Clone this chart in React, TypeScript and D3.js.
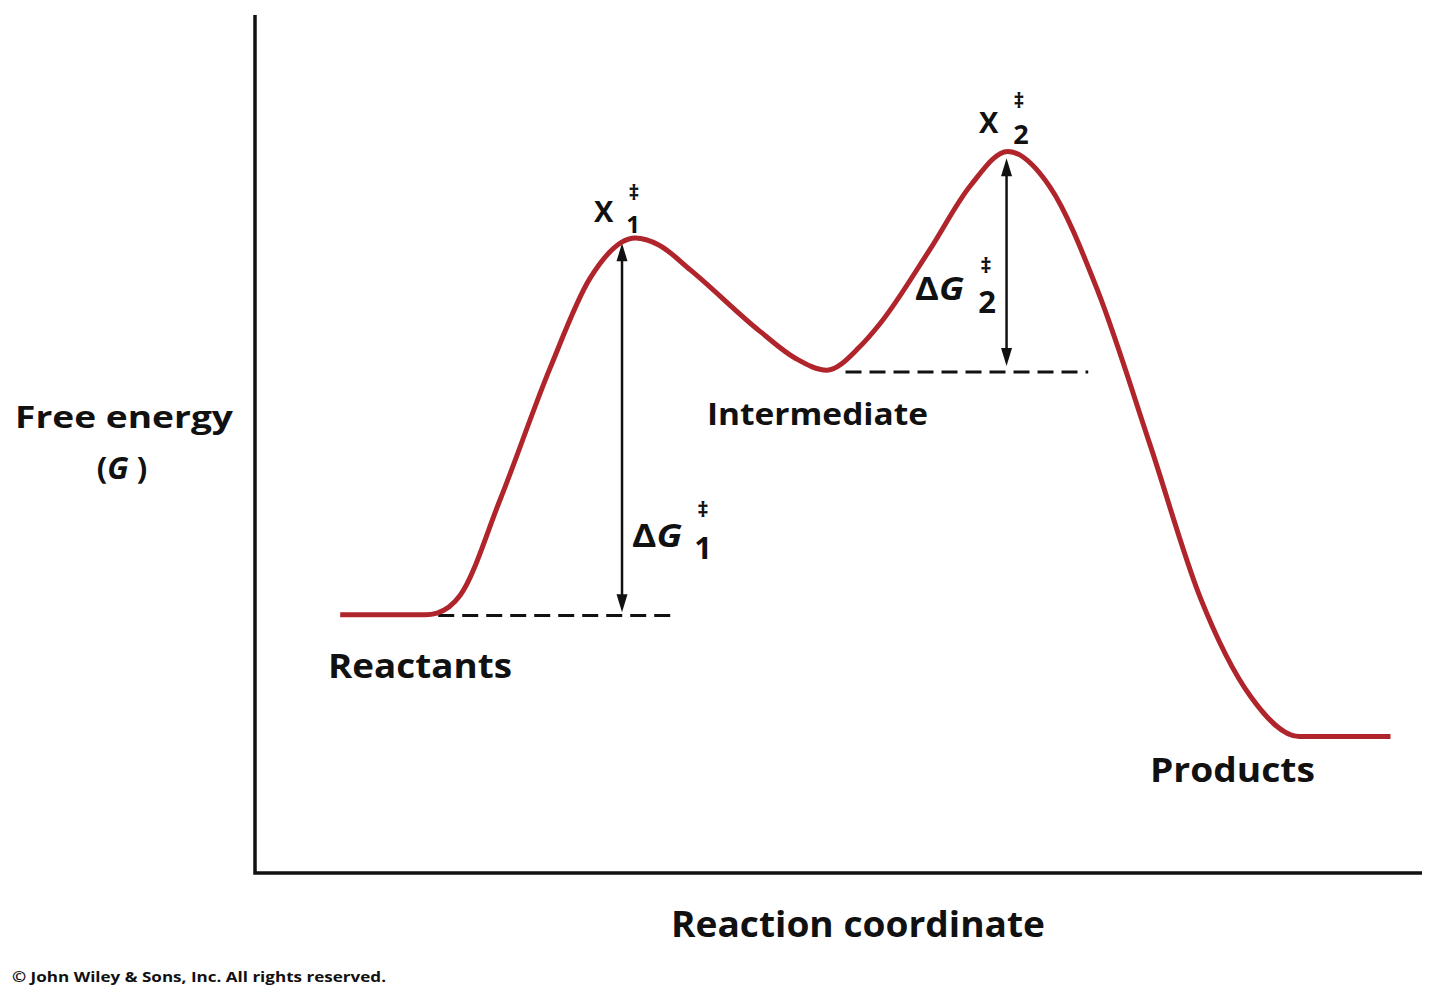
import React from "react";
import * as d3 from "d3";

// Reaction coordinate (0-100) and free energy (0-100)
const reactionCoord = [7.3, 14.6, 15.6, 17.6, 21.0, 25.3, 28.7, 32.6, 34.6, 37.3, 43.3, 46.3, 49.0, 51.8, 53.6, 57.8, 61.3, 64.5, 68.1, 72.2, 76.7, 81.0, 85.3, 89.5, 97.3];
const freeEnergy = [30.1, 30.1, 30.3, 32.4, 43.5, 58.9, 69.3, 74.0, 73.2, 70.3, 63.1, 60.0, 58.6, 61.3, 64.1, 72.6, 80.1, 84.1, 80.0, 67.9, 49.9, 32.1, 20.6, 15.9, 15.9];

// Reference levels (dashed) and activation arrows
const levelNames = ["Reactants", "Intermediate"];
const levelValues = [30.0, 58.4];
const levelStart = [15.7, 50.6];
const levelEnd = [36.2, 71.4];
const arrowX = [31.45, 64.4];
const arrowTop = [73.4, 83.3];
const arrowBottom = [30.4, 59.1];

const W = 1440;
const H = 994;
const FONT = "'Open Sans', 'Noto Sans', sans-serif";
const RED = "#b0252b";

export default function App() {
  const x = d3.scaleLinear().domain([0, 100]).range([255, 1422]);
  const y = d3.scaleLinear().domain([0, 100]).range([873, 15]);

  const pts: [number, number][] = reactionCoord.map((c, i) => [c, freeEnergy[i]]);
  const line = d3
    .line<[number, number]>()
    .x((d) => x(d[0]))
    .y((d) => y(d[1]))
    .curve(d3.curveMonotoneX);

  const arrowHead = (px: number, py: number, dir: number) => {
    const w = 5.5;
    const l = 18;
    return `M${px},${py} L${px - w},${py + dir * l} L${px + w},${py + dir * l} Z`;
  };

  const bold = { fontFamily: FONT, fontWeight: 700, fill: "#111" } as const;

  return (
    <svg
      width={W}
      height={H}
      style={{ position: "absolute", left: 0, top: 0, background: "#fff" }}
    >
      <rect x={0} y={0} width={W} height={H} fill="#fff" />
      {/* axes */}
      <path
        d={`M${x(0)},${y(100)} L${x(0)},${y(0)} L${x(100)},${y(0)}`}
        fill="none"
        stroke="#111"
        strokeWidth={3.5}
      />

      {/* dashed reference levels */}
      {levelValues.map((v, i) => (
        <line
          key={levelNames[i]}
          x1={x(levelStart[i])}
          x2={x(levelEnd[i])}
          y1={y(v)}
          y2={y(v)}
          stroke="#111"
          strokeWidth={3}
          strokeDasharray="16 8"
        />
      ))}

      {/* activation arrows */}
      {arrowX.map((ax, i) => {
        const px = x(ax);
        const top = y(arrowTop[i]);
        const bot = y(arrowBottom[i]);
        return (
          <g key={"arrow" + i}>
            <line x1={px} x2={px} y1={top + 10} y2={bot - 10} stroke="#111" strokeWidth={2.5} />
            <path d={arrowHead(px, top, 1)} fill="#111" />
            <path d={arrowHead(px, bot, -1)} fill="#111" />
          </g>
        );
      })}

      {/* energy curve */}
      <path d={line(pts) || ""} fill="none" stroke={RED} strokeWidth={5} strokeLinecap="butt" />

      {/* X‡1 */}
      <text x={594} y={222} fontSize={29} {...bold}>X</text>
      <text x={634} y={200} fontSize={21} textAnchor="middle" {...bold}>‡</text>
      <text x={633} y={233} fontSize={24} textAnchor="middle" {...bold}>1</text>

      {/* X‡2 */}
      <text x={979} y={133} fontSize={29} {...bold}>X</text>
      <text x={1019} y={108} fontSize={21} textAnchor="middle" {...bold}>‡</text>
      <text x={1021} y={144} fontSize={27} textAnchor="middle" {...bold}>2</text>

      {/* ΔG‡1 */}
      <text x={632} y={547} fontSize={33} textLength={50} lengthAdjust="spacingAndGlyphs" {...bold}>
        Δ<tspan fontStyle="italic">G</tspan>
      </text>
      <text x={703} y={517} fontSize={22} textAnchor="middle" {...bold}>‡</text>
      <text x={703} y={559} fontSize={31} textAnchor="middle" {...bold}>1</text>

      {/* ΔG‡2 */}
      <text x={915} y={300} fontSize={33} textLength={49} lengthAdjust="spacingAndGlyphs" {...bold}>
        Δ<tspan fontStyle="italic">G</tspan>
      </text>
      <text x={986} y={273} fontSize={22} textAnchor="middle" {...bold}>‡</text>
      <text x={987} y={313} fontSize={31} textAnchor="middle" {...bold}>2</text>

      {/* labels */}
      <text x={707} y={425} fontSize={30} textLength={221} lengthAdjust="spacingAndGlyphs" {...bold}>Intermediate</text>
      <text x={328} y={678} fontSize={34} textLength={184} lengthAdjust="spacingAndGlyphs" {...bold}>Reactants</text>
      <text x={1150} y={782} fontSize={34} textLength={165} lengthAdjust="spacingAndGlyphs" {...bold}>Products</text>

      {/* y axis title */}
      <text x={15} y={428} fontSize={31} textLength={218} lengthAdjust="spacingAndGlyphs" {...bold}>Free energy</text>
      <text x={122} y={479} fontSize={31} textAnchor="middle" {...bold}>
        (<tspan fontStyle="italic">G</tspan> )
      </text>

      {/* x axis title */}
      <text x={671} y={937} fontSize={35} textLength={374} lengthAdjust="spacingAndGlyphs" {...bold}>Reaction coordinate</text>

      {/* copyright */}
      <text x={12} y={982} fontSize={14} textLength={374} lengthAdjust="spacingAndGlyphs" {...bold}>© John Wiley &amp; Sons, Inc. All rights reserved.</text>
    </svg>
  );
}
